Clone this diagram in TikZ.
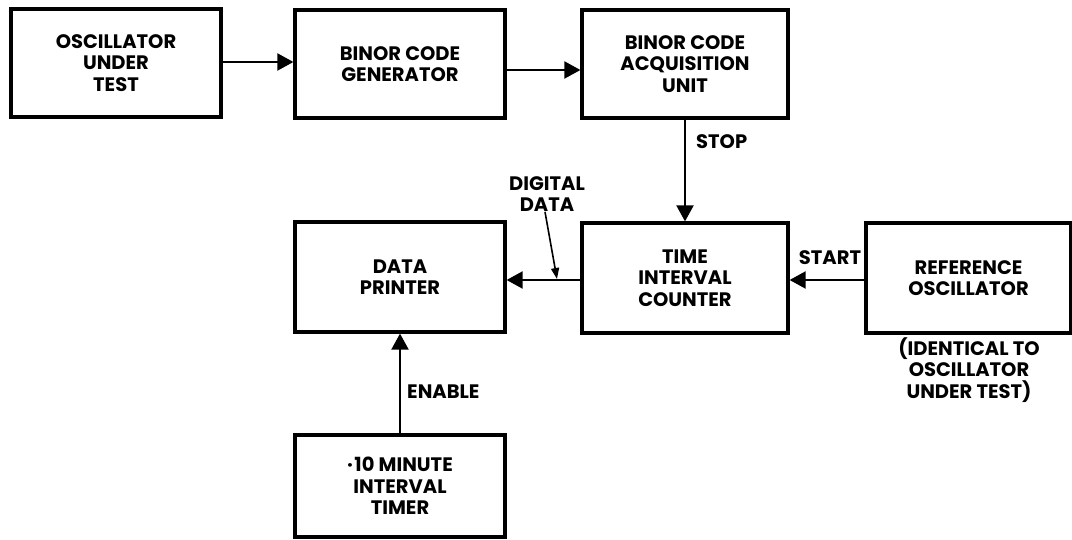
\documentclass[tikz,border=0pt]{standalone}
\usepackage{fontspec}
\setmainfont{Poppins}
\usetikzlibrary{arrows.meta}
\begin{document}
\begin{tikzpicture}[x=1pt,y=-1pt,
  blk/.style={draw,line width=3.2pt,minimum width=#1,align=center,inner sep=0pt,
    font=\fontsize{19.5}{21.5}\selectfont\bfseries},
  blk/.default=210pt,
  lbl/.style={align=center,inner sep=0pt,font=\fontsize{19.5}{21.5}\selectfont\bfseries},
  arr/.style={line width=2pt,-{Triangle[length=16pt,width=17pt]}},
  ptr/.style={line width=1.6pt,-{Triangle[length=11pt,width=8pt]}}]
\useasboundingbox (0,0) rectangle (1072,540);
% processing chain
\node[blk=210pt,minimum height=108pt] (osc) at (116,63) {OSCILLATOR\\UNDER\\TEST};
\node[blk=210pt,minimum height=108pt] (gen) at (400,64) {BINOR CODE\\GENERATOR};
\node[blk=206pt,minimum height=108pt] (acq) at (685,64) {BINOR CODE\\ACQUISITION\\UNIT};
\node[blk=206pt,minimum height=110pt] (tic) at (685,278) {TIME\\INTERVAL\\COUNTER};
\node[blk=205pt,minimum height=110pt] (ref) at (968.5,278) {REFERENCE\\OSCILLATOR};
\node[blk=210pt,minimum height=110pt] (prn) at (400,277) {DATA\\PRINTER};
\node[blk=210pt,minimum height=102pt] (tmr) at (400,486) {·\kern1.5pt10 MINUTE\\INTERVAL\\TIMER};
% connectors
\draw[arr] ([yshift=1pt]osc.east) -- ([yshift=1pt]osc.east -| gen.west);
\draw[arr] ([yshift=-6pt]gen.east) -- ([yshift=-6pt]gen.east -| acq.west);
\draw[arr] (acq.south) -- (tic.north);
\draw[arr] ([yshift=-2pt]ref.west) -- ([yshift=-2pt]ref.west -| tic.east);
\draw[arr] ([yshift=-2pt]tic.west) -- ([yshift=-2pt]tic.west -| prn.east);
\draw[arr] (tmr.north) -- (prn.south);
% labels
\node[lbl,anchor=west] (stop) at (696,142) {STOP};
\node[lbl] (start) at (830,258) {START};
\node[lbl,anchor=west] (enable) at (407,392) {ENABLE};
\node[lbl] (dig) at (547,194) {DIGITAL\\DATA};
\node[lbl] (note) at (969,370) {(IDENTICAL TO\\OSCILLATOR\\UNDER TEST)};
\coordinate (tap) at (557,279);
\draw[ptr] ([xshift=-2pt]dig.south) -- (tap);
\end{tikzpicture}
\end{document}
